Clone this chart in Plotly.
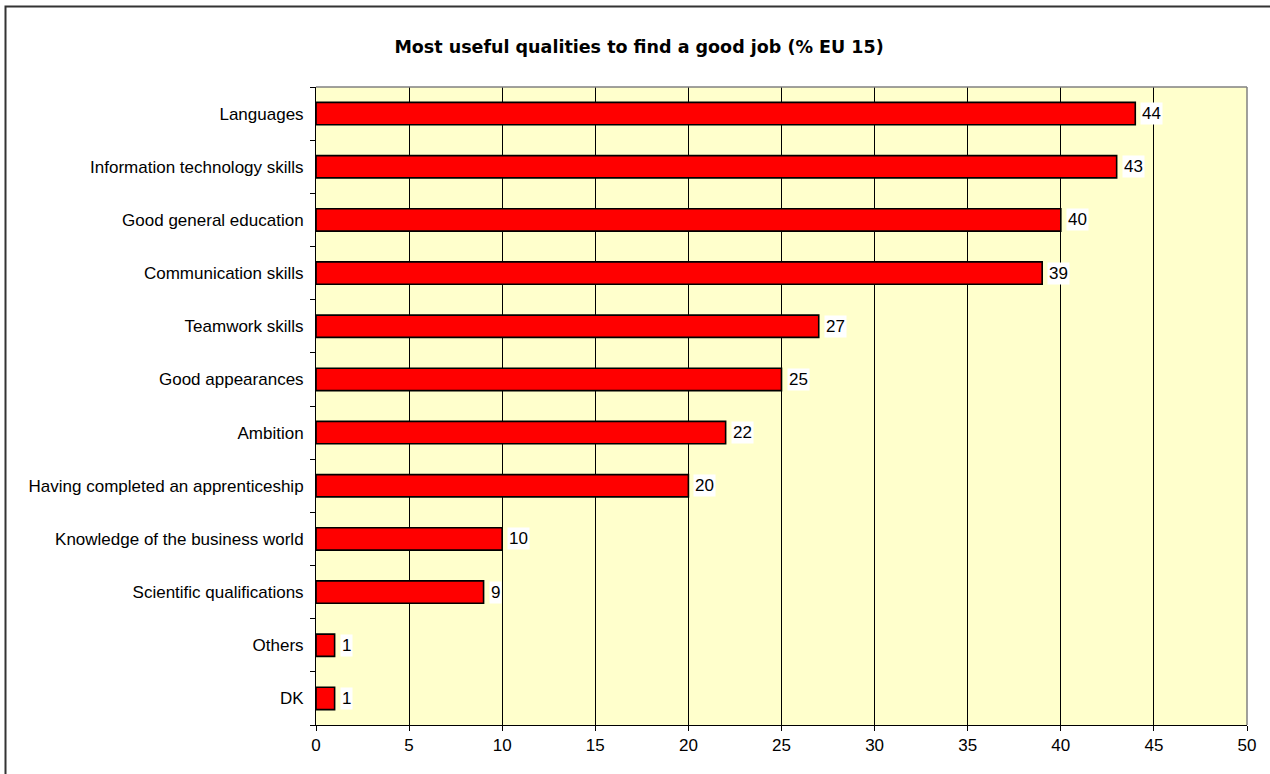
import plotly.graph_objects as go

categories = ["Languages", "Information technology skills", "Good general education",
              "Communication skills", "Teamwork skills", "Good appearances", "Ambition",
              "Having completed an apprenticeship", "Knowledge of the business world",
              "Scientific qualifications", "Others", "DK"]
values = [44, 43, 40, 39, 27, 25, 22, 20, 10, 9, 1, 1]
x_ticks = [0, 5, 10, 15, 20, 25, 30, 35, 40, 45, 50]

W, H = 1270, 774
L, R, T, B = 316, 23, 87, 49
pw, ph = W - L - R, H - T - B
FONT = "Liberation Sans, Arial, sans-serif"
FS = 17

cats = categories[::-1]
vals = values[::-1]

fig = go.Figure()
fig.add_trace(go.Bar(
    y=cats, x=vals, orientation="h",
    marker=dict(color="#FF0000", line=dict(color="#000000", width=1.6)),
    width=0.42, hoverinfo="x+y",
))

for c, v in zip(cats, vals):
    fig.add_annotation(x=v, y=c, text=str(v), showarrow=False, xanchor="left",
                       xshift=5, bgcolor="white", borderpad=1,
                       font=dict(family=FONT, size=FS, color="#000"))

# outer border (chart area)
fig.add_shape(type="rect", xref="paper", yref="paper",
              x0=(5.5 - L) / pw, x1=(W + 5 - L) / pw,
              y0=(H - B - (H + 5)) / ph, y1=(H - B - 6.5) / ph,
              line=dict(color="#333333", width=2), fillcolor="rgba(0,0,0,0)", layer="below")

# plot border gray top/right
fig.add_shape(type="line", xref="paper", yref="paper", x0=0, x1=1, y0=1, y1=1,
              line=dict(color="#808080", width=1.5))
fig.add_shape(type="line", xref="paper", yref="paper", x0=1, x1=1, y0=0, y1=1,
              line=dict(color="#808080", width=1.5))

fig.update_layout(
    width=W, height=H,
    margin=dict(l=L, r=R, t=T, b=B),
    paper_bgcolor="white", plot_bgcolor="#FFFFCC",
    font=dict(family=FONT, size=FS, color="#000"),
    showlegend=False,
    title=dict(text="<b>Most useful qualities to find a good job (% EU 15)</b>",
               x=639 / W, xanchor="center", y=1 - 47 / H, yanchor="middle",
               font=dict(family="DejaVu Sans, sans-serif", size=17.5, color="#000")),
    bargap=0.58,
)
fig.update_xaxes(range=[0, 50], tickvals=x_ticks, showgrid=True, gridcolor="#000000",
                 gridwidth=1, zeroline=False, showline=True, linecolor="#000", linewidth=1,
                 ticks="outside", ticklen=5, tickcolor="#000", tickfont=dict(size=FS),
                 fixedrange=True)
fig.update_yaxes(showgrid=False, zeroline=False, showline=True, linecolor="#000",
                 linewidth=1, ticks="outside", ticklen=5, tickcolor="#000",
                 tickson="boundaries", tickfont=dict(size=FS), ticklabelstandoff=8,
                 range=[-0.5, 11.5], fixedrange=True)

fig.write_html("out.html", config={"displayModeBar": False},
               post_script="document.body.style.margin='0';document.body.style.overflow='hidden';")
